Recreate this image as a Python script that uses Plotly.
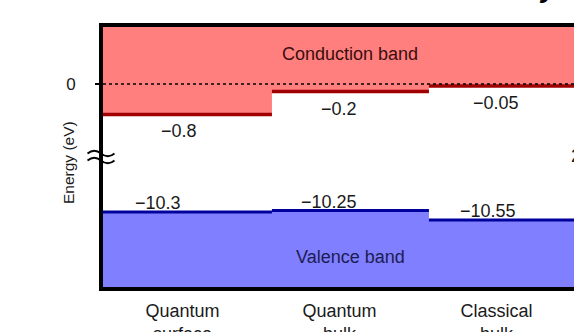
import plotly.graph_objects as go
from plotly.subplots import make_subplots

# ---- data ----
categories = ["Quantum<br>surface", "Quantum<br>bulk", "Classical<br>bulk"]
conduction_edge = [-0.8, -0.2, -0.05]      # eV
valence_edge = [-10.3, -10.25, -10.55]     # eV
reference_level = 0.0                      # eV (dotted line)
band_names = ["Conduction band", "Valence band"]
axis_title = "Energy (eV)"

# ---- style / layout ----
W, H = 574, 332
ML, MR, MT, MB = 103, 0, 27, 45
X_RANGE = [-0.576, 2.424]
UPPER_RANGE = [-1.868, 1.5]
LOWER_RANGE = [-12.644, -8.519]
ROW_HEIGHTS = [0.4923, 0.5077]
FONT = "Liberation Sans, Arial, Helvetica, sans-serif"
CB_FILL, CB_LINE = "#ff7f7f", "#a00000"
VB_FILL, VB_LINE = "#7f7fff", "#00009c"
cb_label_dx = [-14.5, -11.5, -11.5]
vb_label_dx = [-35.5, -21.5, -19.5]

fig = make_subplots(rows=2, cols=1, shared_xaxes=True, vertical_spacing=0,
                    row_heights=ROW_HEIGHTS)

n = len(categories)
edges = [X_RANGE[0]] + [i + 0.5 for i in range(n - 1)] + [X_RANGE[1] + 0.3]


def band_polygon(levels, far):
    xs, ys = [], []
    for k, v in enumerate(levels):
        xs += [edges[k], edges[k + 1]]
        ys += [v, v]
    xs += [edges[-1], edges[0]]
    ys += [far, far]
    return xs, ys


def edge_segments(levels):
    xs, ys = [], []
    for k, v in enumerate(levels):
        xs += [edges[k], edges[k + 1], None]
        ys += [v, v, None]
    return xs, ys


cx, cy = band_polygon(conduction_edge, UPPER_RANGE[1] + 1)
fig.add_trace(go.Scatter(x=cx, y=cy, fill="toself", fillcolor=CB_FILL, mode="lines",
                         line=dict(width=0, color=CB_FILL), hoverinfo="skip",
                         showlegend=False), row=1, col=1)
ex, ey = edge_segments(conduction_edge)
fig.add_trace(go.Scatter(x=ex, y=ey, mode="lines", line=dict(color=CB_LINE, width=3.5),
                         hoverinfo="skip", showlegend=False), row=1, col=1)

vx, vy = band_polygon(valence_edge, LOWER_RANGE[0] - 1)
fig.add_trace(go.Scatter(x=vx, y=vy, fill="toself", fillcolor=VB_FILL, mode="lines",
                         line=dict(width=0, color=VB_FILL), hoverinfo="skip",
                         showlegend=False), row=2, col=1)
ex, ey = edge_segments(valence_edge)
fig.add_trace(go.Scatter(x=ex, y=ey, mode="lines", line=dict(color=VB_LINE, width=3),
                         hoverinfo="skip", showlegend=False), row=2, col=1)

# dotted zero line
fig.add_shape(type="line", xref="x domain", x0=0, x1=1, yref="y",
              y0=reference_level, y1=reference_level,
              line=dict(color="black", width=1.3, dash="dot"))

# axis-break squiggle (two tilde waves), drawn in paper coordinates
PW, PH = W - ML - MR, H - MT - MB


def px_to_paper(px, py):
    return (px - ML) / PW, (H - MB - py) / PH


def tilde(x0, yc, w=27, a=5.5):
    pts = [(x0, yc), (x0 + w / 4, yc - a), (x0 + w / 2, yc), (x0 + 3 * w / 4, yc + a), (x0 + w, yc)]
    p = [px_to_paper(*q) for q in pts]
    return (f"M {p[0][0]},{p[0][1]} Q {p[1][0]},{p[1][1]} {p[2][0]},{p[2][1]} "
            f"Q {p[3][0]},{p[3][1]} {p[4][0]},{p[4][1]}")


for yc in (153.5, 160.5):
    fig.add_shape(type="path", xref="paper", yref="paper", path=tilde(87.5, yc),
                  line=dict(color="black", width=1.8))


def fmt(v):
    return ("\u2212" if v < 0 else "") + f"{abs(v):g}"


annots = []
for i, v in enumerate(conduction_edge):
    annots.append(dict(x=i, y=v, xref="x", yref="y", text=fmt(v), showarrow=False,
                       xshift=cb_label_dx[i], yshift=-17, font=dict(size=18, color="#1a1a1a")))
for i, v in enumerate(valence_edge):
    annots.append(dict(x=i, y=v, xref="x2", yref="y2", text=fmt(v), showarrow=False,
                       xshift=vb_label_dx[i], yshift=8.5, font=dict(size=18, color="#1a1a1a")))

cbx, cby = px_to_paper(0, 54)
vbx, vby = px_to_paper(0, 256.5)
annots.append(dict(x=1, xref="x", y=cby, yref="paper", yanchor="middle", text=band_names[0],
                   showarrow=False, font=dict(size=18, color="#3a0d0d")))
annots.append(dict(x=1, xref="x2", y=vby, yref="paper", yanchor="middle", text=band_names[1],
                   showarrow=False, font=dict(size=18, color="#1c1c52")))
tx, ty = px_to_paper(69, 163)
annots.append(dict(x=tx, xref="paper", y=ty, yref="paper",
                   text=axis_title, textangle=-90, showarrow=False,
                   xanchor="center", yanchor="middle",
                   font=dict(size=15.5, color="#1a1a1a")))
# cropped fragments of neighbouring content
annots.append(dict(x=0.9894, xref="paper", y=0.504, yref="paper", text="2",
                   showarrow=False, xanchor="left", yanchor="middle",
                   font=dict(size=18, color="#1a1a1a")))
annots.append(dict(x=0.945, xref="paper", y=1.086, yref="paper", text="<b><i>y</i></b>",
                   showarrow=False, xanchor="center", yanchor="bottom",
                   font=dict(size=28, color="black")))

fig.update_layout(
    width=W, height=H, margin=dict(l=ML, r=MR, t=MT, b=MB, autoexpand=False),
    paper_bgcolor="white", plot_bgcolor="white",
    font=dict(family=FONT, color="#1a1a1a"),
    annotations=annots, showlegend=False,
)

axis_line = dict(showline=True, linecolor="black", linewidth=4, showgrid=False,
                 zeroline=False, automargin=False)
fig.update_xaxes(range=X_RANGE, **axis_line)
fig.update_layout(
    xaxis=dict(side="top", showticklabels=False, ticks=""),
    xaxis2=dict(tickvals=list(range(n)), ticktext=categories, ticks="",
                tickfont=dict(size=18, color="#1a1a1a"), ticklabelshift=-11,
                ticklabelstandoff=4),
    yaxis=dict(range=UPPER_RANGE, tickvals=[reference_level], ticktext=["0"],
               ticks="outside", ticklen=4, tickwidth=2, tickcolor="black",
               tickfont=dict(size=17, color="#1a1a1a"), ticklabelstandoff=16, **axis_line),
    yaxis2=dict(range=LOWER_RANGE, showticklabels=False, ticks="", **axis_line),
)

fig.write_html("out.html")
